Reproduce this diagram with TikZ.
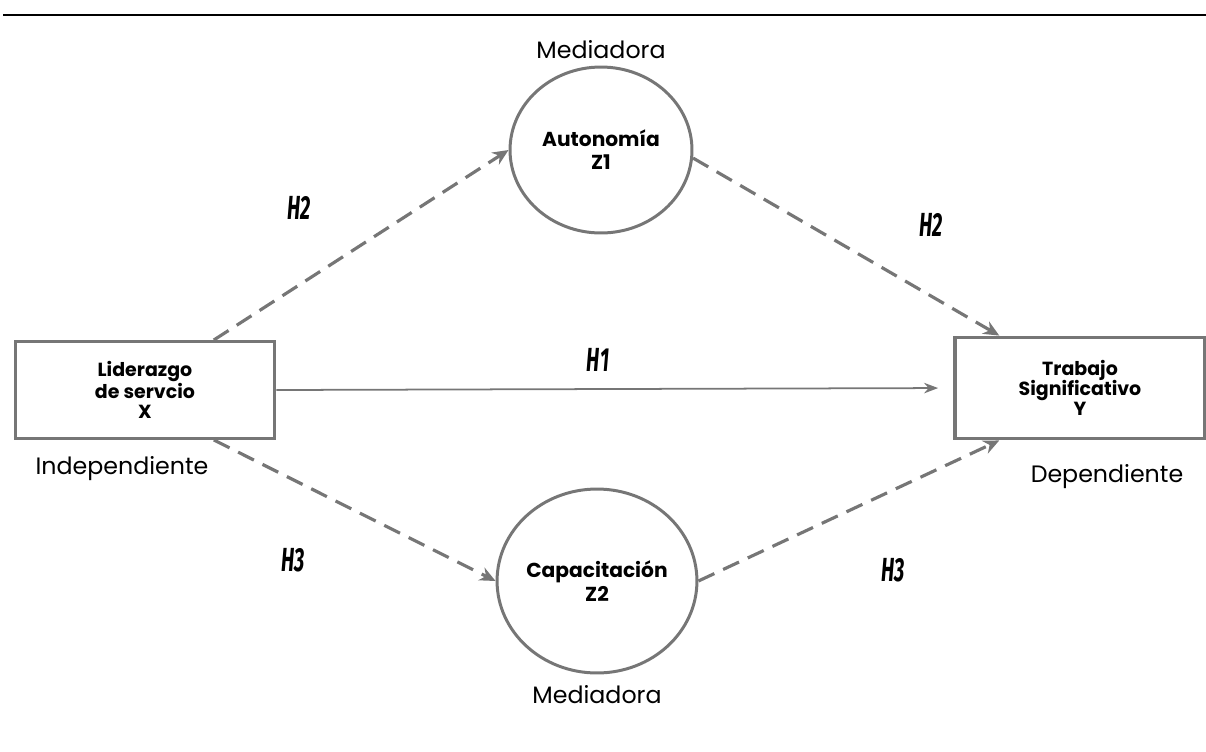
\documentclass[tikz,border=0pt]{standalone}
\usepackage{fontspec}
\usepackage{graphicx}
\setmainfont{Poppins}
\newfontfamily\hfont{Fira Sans}
\usetikzlibrary{arrows.meta,positioning,shapes.geometric}
\definecolor{linegray}{RGB}{118,118,118}
\newcommand{\hlabel}[1]{\scalebox{0.6}[1]{\hfont\bfseries\itshape #1}}
\begin{document}
\begin{tikzpicture}[x=0.02cm,y=-0.02cm,
  var/.style={draw=linegray,line width=1.7pt,rectangle,inner sep=0pt,align=center,font=\fontsize{10.8}{11.6}\selectfont\bfseries},
  med/.style={draw=linegray,line width=1.7pt,ellipse,inner sep=0pt,align=center,font=\fontsize{11.5}{13.2}\selectfont\bfseries},
  rol/.style={font=\fontsize{13.5}{16}\selectfont},
  hyp/.style={font=\fontsize{19}{22}\selectfont},
  dasharrow/.style={draw=linegray,line width=1.8pt,dash pattern=on 10pt off 5.5pt,-{Stealth[length=9pt,width=8pt]}},
  solidarrow/.style={draw=linegray,line width=1pt,-{Stealth[length=8pt,width=6pt]}}]
\useasboundingbox (0,0) rectangle (1206,751);
\draw[line width=1.6pt] (3,15) -- (1206,15);
\node(liderazgo)[var,minimum width=5.2cm,minimum height=1.94cm] at (145,390){Liderazgo\\de servcio\\X};
\node(trabajo)[var,minimum width=5cm,minimum height=2.02cm,line width=2.2pt] at (1080,388){Trabajo\\Significativo\\Y};
\node(autonomia)[med,minimum width=3.64cm,minimum height=3.32cm] at (601,150){Autonom\'ia\\Z1};
\node(capacitacion)[med,minimum width=3.8cm,minimum height=3.68cm] at (597,581){Capacitaci\'on\\Z2};
\node(med-a)[rol,above=0.02cm of autonomia]{Mediadora};
\node(med-b)[rol,below=0.1cm of capacitacion]{Mediadora};
\node(indep)[rol] at (122,469){Independiente};
\node(dep)[rol] at (1107,477){Dependiente};
\node(h2-a)[hyp] at (299,208){\hlabel{H2}};
\node(h2-b)[hyp] at (931,225){\hlabel{H2}};
\node(h1)[hyp] at (598,360){\hlabel{H1}};
\node(h3-a)[hyp] at (293,560){\hlabel{H3}};
\node(h3-b)[hyp] at (893,570){\hlabel{H3}};
\draw[dasharrow]   (liderazgo.36) to (autonomia.west);
\draw[dasharrow]   (autonomia.-5) to (trabajo.147);
\draw[dasharrow]   (liderazgo.-36) to (capacitacion.west);
\draw[dasharrow]   (capacitacion.east) to (trabajo.213);
\draw[solidarrow,shorten >=0.3cm]  (liderazgo.east) to (trabajo.west);
\end{tikzpicture}
\end{document}
